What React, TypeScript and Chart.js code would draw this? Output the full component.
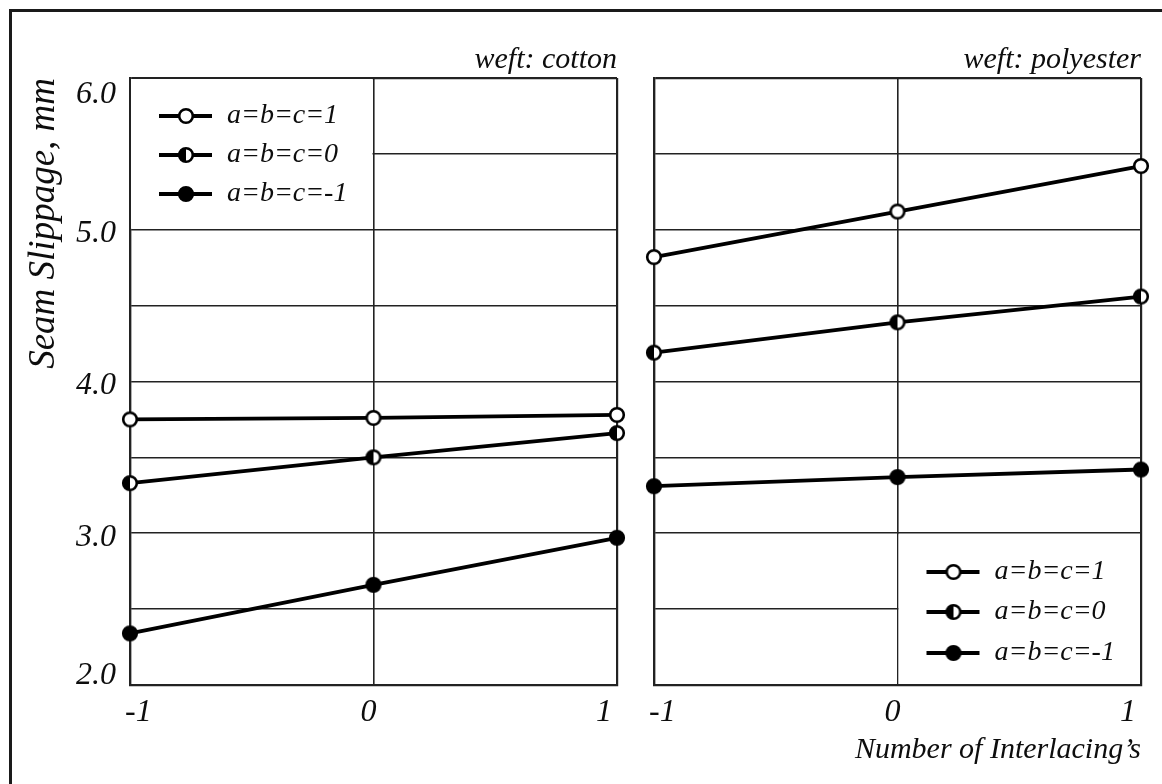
import React, { useEffect, useRef } from 'react';
import { Chart, registerables } from 'chart.js';

Chart.register(...registerables);

// ---------- data ----------
const xValues = [-1, 0, 1];
const xTickLabels = ['-1', '0', '1'];
const yTickLabels = ['2.0', '3.0', '4.0', '5.0', '6.0'];
const seriesNames = ['a=b=c=1', 'a=b=c=0', 'a=b=c=-1'];

const cottonOnes = [3.75, 3.76, 3.78];
const cottonZeros = [3.33, 3.5, 3.66];
const cottonMinusOnes = [2.34, 2.66, 2.97];

const polyOnes = [4.82, 5.12, 5.42];
const polyZeros = [4.19, 4.39, 4.56];
const polyMinusOnes = [3.31, 3.37, 3.42];

const panelTitles = ['weft: cotton', 'weft: polyester'];
const yAxisTitle = 'Seam Slippage, mm';
const xAxisTitle = 'Number of Interlacing\u2019s';

const Y_MIN = 2;
const Y_MAX = 6;

// ---------- style ----------
const SERIF = '"Liberation Serif", "Times New Roman", Times, serif';
const INK = '#0d0d0d';
const GRID = '#222';

type MarkerKind = 'open' | 'half' | 'filled';
const markerKinds: MarkerKind[] = ['open', 'half', 'filled'];

function makeMarker(kind: MarkerKind): HTMLCanvasElement {
  const c = document.createElement('canvas');
  c.width = 22;
  c.height = 22;
  const g = c.getContext('2d')!;
  const cx = 11, cy = 11, r = 6.8;
  g.beginPath();
  g.arc(cx, cy, r, 0, Math.PI * 2);
  g.fillStyle = kind === 'filled' ? '#000' : '#fff';
  g.fill();
  if (kind === 'half') {
    g.beginPath();
    g.moveTo(cx, cy - r);
    g.arc(cx, cy, r, -Math.PI / 2, Math.PI / 2, true);
    g.closePath();
    g.fillStyle = '#000';
    g.fill();
  }
  g.beginPath();
  g.arc(cx, cy, r, 0, Math.PI * 2);
  g.lineWidth = 2.6;
  g.strokeStyle = '#000';
  g.stroke();
  return c;
}

function legendPlugin(corner: 'topLeft' | 'bottomRight', markers: HTMLCanvasElement[]) {
  return {
    id: 'panelLegend',
    afterDraw(chart: any) {
      const { ctx, chartArea, scales } = chart;
      const xs = scales.x;
      const ys = scales.y;
      let x0: number, x1: number, y0: number, y1: number, rows: number[];
      if (corner === 'topLeft') {
        x0 = chartArea.left + 1;
        x1 = xs.getPixelForValue(0) - 1;
        y0 = chartArea.top + 1;
        y1 = ys.getPixelForValue(5) - 1;
        const t = chartArea.top;
        rows = [t + 38, t + 77, t + 116];
      } else {
        x0 = xs.getPixelForValue(0) + 1;
        x1 = chartArea.right - 1;
        y0 = ys.getPixelForValue(3) + 1;
        y1 = chartArea.bottom - 1;
        const b = chartArea.bottom;
        rows = [b - 113, b - 73, b - 32];
      }
      const base = corner === 'topLeft' ? chartArea.left : xs.getPixelForValue(0);
      ctx.save();
      ctx.fillStyle = '#fff';
      ctx.fillRect(x0, y0, x1 - x0, y1 - y0);
      ctx.font = `italic 28px ${SERIF}`;
      ctx.textBaseline = 'middle';
      ctx.textAlign = 'left';
      seriesNames.forEach((name, i) => {
        const y = rows[i];
        ctx.beginPath();
        ctx.moveTo(base + 29, y);
        ctx.lineTo(base + 82, y);
        ctx.lineWidth = 3.8;
        ctx.strokeStyle = '#000';
        ctx.stroke();
        const m = markers[i];
        ctx.drawImage(m, base + 56 - m.width / 2, y - m.height / 2);
        ctx.fillStyle = INK;
        ctx.fillText(name, base + 97, y);
      });
      ctx.restore();
    },
  };
}

function buildConfig(panel: 0 | 1, markers: HTMLCanvasElement[]): any {
  const seriesValues =
    panel === 0
      ? [cottonOnes, cottonZeros, cottonMinusOnes]
      : [polyOnes, polyZeros, polyMinusOnes];

  const datasets = seriesValues.map((vals, i) => ({
    label: seriesNames[i],
    data: xValues.map((x, j) => ({ x, y: vals[j] })),
    borderColor: '#000',
    borderWidth: 3.8,
    pointStyle: markers[i],
    pointRadius: 8,
    tension: 0,
    clip: false,
  }));

  const gridX = {
    color: GRID,
    lineWidth: (c: any) => (c.tick && Math.abs(c.tick.value) === 1 ? 2.2 : 1.6),
    drawTicks: false,
  };
  const gridY = {
    color: GRID,
    lineWidth: (c: any) => (c.tick && c.tick.value === Y_MAX ? 2.2 : 1.6),
    drawTicks: false,
  };

  return {
    type: 'line',
    data: { datasets },
    options: {
      animation: false,
      responsive: false,
      maintainAspectRatio: false,
      layout: {
        padding: { left: 0, top: 0, right: panel === 0 ? 23 : 21, bottom: 0 },
      },
      plugins: {
        legend: { display: false },
        tooltip: { enabled: false },
        title: {
          display: true,
          text: panelTitles[panel],
          align: 'end',
          fullSize: false,
          color: INK,
          font: { family: SERIF, style: 'italic', weight: 'normal', size: 30, lineHeight: 1.2 },
          padding: { top: 42, bottom: 0 },
        },
      },
      scales: {
        x: {
          type: 'linear',
          min: -1,
          max: 1,
          grid: gridX,
          border: { display: true, color: GRID, width: 2.2 },
          ticks: {
            stepSize: 1,
            align: 'inner',
            labelOffset: -5,
            padding: 8,
            color: INK,
            font: { family: SERIF, style: 'italic', size: 32, lineHeight: 1.2 },
            callback: (v: any) => {
              const idx = xValues.indexOf(Number(v));
              return idx >= 0 ? xTickLabels[idx] : '';
            },
          },
          title: {
            display: panel === 1,
            text: xAxisTitle,
            align: 'end',
            color: INK,
            font: { family: SERIF, style: 'italic', size: 30, lineHeight: 1.2 },
            padding: { top: 0, bottom: 16 },
          },
          afterFit: (s: any) => {
            s.height = 99;
          },
        },
        y: {
          type: 'linear',
          min: Y_MIN,
          max: Y_MAX,
          grid: gridY,
          border: { display: true, color: GRID, width: 2.2 },
          ticks: {
            display: panel === 0,
            stepSize: 0.5,
            padding: 14,
            labelOffset: 4,
            color: INK,
            font: { family: SERIF, style: 'italic', size: 32, lineHeight: '26px' },
            callback: (v: any) => {
              const n = Number(v);
              const lbl = yTickLabels.find((t) => Math.abs(parseFloat(t) - n) < 1e-6);
              if (!lbl) return '';
              if (n === Y_MAX) return ['', lbl];
              if (n === Y_MIN) return [lbl, ''];
              return lbl;
            },
          },
          title: {
            display: panel === 0,
            text: yAxisTitle,
            align: 'end',
            color: INK,
            font: { family: SERIF, style: 'italic', size: 37, lineHeight: 1.0 },
            padding: { top: 26, bottom: 0 },
          },
          afterFit: (s: any) => {
            s.width = panel === 0 ? 130 : 14;
          },
        },
      },
    },
    plugins: [legendPlugin(panel === 0 ? 'topLeft' : 'bottomRight', markers)],
  };
}

function Panel({ panel, left, width }: { panel: 0 | 1; left: number; width: number }) {
  const ref = useRef<HTMLCanvasElement | null>(null);
  useEffect(() => {
    if (!ref.current) return;
    const markers = markerKinds.map(makeMarker);
    const chart = new Chart(ref.current, buildConfig(panel, markers));
    return () => chart.destroy();
  }, [panel]);
  return (
    <canvas
      ref={ref}
      width={width}
      height={784}
      style={{ position: 'absolute', left, top: 0, width, height: 784 }}
    />
  );
}

export default function App() {
  return (
    <div
      style={{
        position: 'fixed',
        left: 0,
        top: 0,
        width: 1162,
        height: 784,
        background: '#fff',
        overflow: 'hidden',
      }}
    >
      <div
        style={{
          position: 'absolute',
          left: 9,
          top: 9,
          width: 1220,
          height: 820,
          border: '3px solid #1a1a1a',
          boxSizing: 'border-box',
        }}
      />
      <Panel panel={0} left={0} width={640} />
      <Panel panel={1} left={640} width={522} />
    </div>
  );
}
